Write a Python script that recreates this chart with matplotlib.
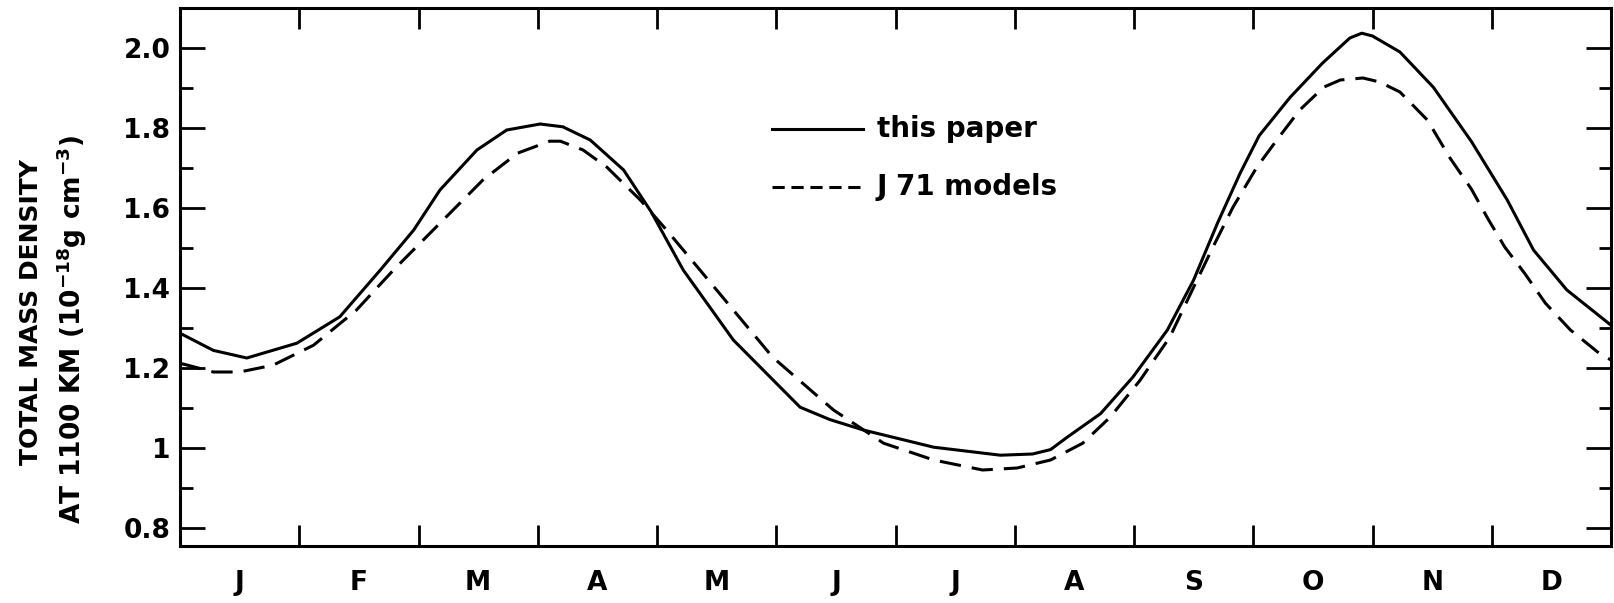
import matplotlib
matplotlib.use("Agg")
import matplotlib.pyplot as plt
import numpy as np
from matplotlib.lines import Line2D

# values (x in months from 1 Jan, y in 1e-18 g cm^-3)
months = ["J", "F", "M", "A", "M", "J", "J", "A", "S", "O", "N", "D"]

paper_x = [0.00, 0.28, 0.56, 0.98, 1.34, 1.68, 1.96, 2.18, 2.49, 2.74, 3.02,
           3.21, 3.44, 3.72, 3.95, 4.22, 4.64, 5.20, 5.45, 5.73, 6.32, 6.88,
           7.15, 7.30, 7.44, 7.72, 7.99, 8.28, 8.50, 8.70, 8.89, 9.05, 9.31,
           9.58, 9.81, 9.91, 10.00, 10.23, 10.51, 10.83, 11.13, 11.35, 11.63,
           12.00]
paper_y = [1.286, 1.243, 1.224, 1.261, 1.327, 1.444, 1.544, 1.644, 1.744,
           1.794, 1.809, 1.802, 1.769, 1.694, 1.590, 1.444, 1.269, 1.101,
           1.070, 1.044, 1.001, 0.981, 0.984, 0.995, 1.026, 1.085, 1.176,
           1.294, 1.419, 1.561, 1.686, 1.780, 1.876, 1.961, 2.024, 2.036,
           2.029, 1.989, 1.901, 1.765, 1.619, 1.494, 1.394, 1.306]

j71_x = [0.00, 0.28, 0.50, 0.78, 1.12, 1.48, 1.79, 2.18, 2.32, 2.54, 2.83,
         3.10, 3.19, 3.38, 3.58, 3.86, 4.08, 4.50, 4.97, 5.48, 5.90, 6.32,
         6.73, 7.02, 7.30, 7.57, 7.80, 8.05, 8.30, 8.50, 8.66, 8.83, 9.03,
         9.21, 9.39, 9.59, 9.73, 9.92, 10.06, 10.23, 10.46, 10.65, 10.83,
         10.97, 11.11, 11.28, 11.45, 11.66, 11.90, 12.00]
j71_y = [1.211, 1.189, 1.189, 1.206, 1.256, 1.344, 1.444, 1.561, 1.603,
         1.669, 1.736, 1.766, 1.766, 1.744, 1.701, 1.619, 1.544, 1.394,
         1.226, 1.094, 1.011, 0.969, 0.944, 0.949, 0.969, 1.011, 1.076,
         1.168, 1.276, 1.401, 1.500, 1.601, 1.701, 1.774, 1.844, 1.901,
         1.919, 1.924, 1.914, 1.889, 1.819, 1.724, 1.646, 1.571, 1.501,
         1.434, 1.361, 1.294, 1.236, 1.219]

y_ticks = [0.8, 1.0, 1.2, 1.4, 1.6, 1.8, 2.0]
y_labels = ["0.8", "1", "1.2", "1.4", "1.6", "1.8", "2.0"]

W, H = 1614, 603
plt.rcParams["font.family"] = ["DejaVu Sans"]
plt.rcParams["font.weight"] = "bold"
plt.rcParams["mathtext.default"] = "bf"

fig = plt.figure(figsize=(W / 100, H / 100), dpi=100)
# axes box in pixels: x 180..1611, y 8..546
ax = fig.add_axes([180 / W, 1 - 546 / H, (1611 - 180) / W, (546 - 8) / H])

lw = 2.2
ax.plot(paper_x, paper_y, color="black", lw=lw, solid_joinstyle="round")
ax.plot(j71_x, j71_y, color="black", lw=lw, linestyle=(0, (7, 3.6)))

ax.set_xlim(0, 12)
ax.set_ylim(0.754, 2.099)

# month boundaries as ticks, labels at the middle of each month
ax.set_xticks(np.arange(1, 12))
ax.set_xticklabels([])
ax.set_xticks(np.arange(12) + 0.5, minor=True)
ax.set_xticklabels(months, minor=True, fontsize=19, fontweight="bold")
ax.tick_params(axis="x", which="major", direction="in", length=15, width=2,
               top=True, bottom=True)
ax.tick_params(axis="x", which="minor", length=0, pad=17)

ax.set_yticks(y_ticks)
ax.set_yticklabels(y_labels, fontsize=19, fontweight="bold")
ax.set_yticks(np.arange(0.9, 2.0, 0.2), minor=True)
ax.tick_params(axis="y", which="major", direction="in", length=18, width=2,
               left=True, right=True, pad=7)
ax.tick_params(axis="y", which="minor", direction="in", length=9, width=2,
               left=True, right=True)

for spine in ax.spines.values():
    spine.set_linewidth(2.2)

# legend drawn by hand, as in the original
leg_y = [0.775, 0.667]
ax.add_line(Line2D([0.414, 0.477], [leg_y[0]] * 2, transform=ax.transAxes,
                   color="black", lw=lw))
ax.add_line(Line2D([0.414, 0.477], [leg_y[1]] * 2, transform=ax.transAxes,
                   color="black", lw=lw, linestyle=(0, (4, 2.2))))
ax.text(0.487, leg_y[0], "this paper", transform=ax.transAxes, fontsize=20,
        fontweight="bold", va="center", ha="left")
ax.text(0.487, leg_y[1], "J 71 models", transform=ax.transAxes, fontsize=20,
        fontweight="bold", va="center", ha="left")

fig.text(31 / W, 1 - 312 / H, "TOTAL MASS DENSITY", rotation=90,
         ha="center", va="center", fontsize=18, fontweight="bold")
fig.text(72 / W, 1 - 329 / H, "AT 1100 KM (10$^{-18}$g cm$^{-3}$)",
         rotation=90, ha="center", va="center", fontsize=19,
         fontweight="bold")

fig.savefig("out.png", dpi=100, facecolor="white")
